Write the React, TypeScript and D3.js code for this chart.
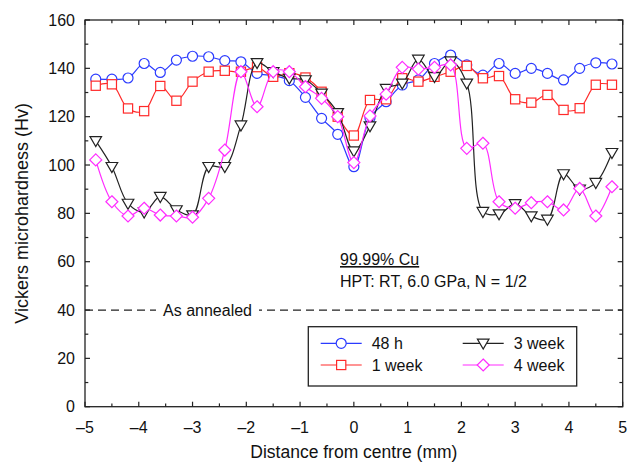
import * as d3 from "d3";

// distance from centre (mm)
const positions = [
  -4.8, -4.5, -4.2, -3.9, -3.6, -3.3, -3.0, -2.7, -2.4, -2.1, -1.8, -1.5, -1.2,
  -0.9, -0.6, -0.3, 0, 0.3, 0.6, 0.9, 1.2, 1.5, 1.8, 2.1, 2.4, 2.7, 3.0, 3.3,
  3.6, 3.9, 4.2, 4.5, 4.8,
];

const hv48h = [
  135.5, 135.5, 136, 142, 138.3, 143.4, 145, 144.8, 143.2, 142.7, 137.9, 137,
  134.9, 128, 119.3, 112.7, 99.3, 119.5, 126.2, 133.1, 135.2, 142, 145.5, 141.4,
  137.2, 142, 137.9, 140, 137.9, 135.2, 140, 142.3, 141.8,
];
const hv1week = [
  132.8, 133.4, 123.4, 122.3, 132.7, 126.6, 134.5, 138.6, 139, 138.6, 140.5,
  136.5, 138, 136.2, 130.3, 120, 112.2, 126.9, 127.2, 135.9, 134.5, 136.5, 138.6,
  141, 135.9, 136.8, 127.2, 125.8, 129, 122.8, 123.5, 133.2, 133.2,
];
const hv3week = [
  110, 99.3, 84.1, 80.5, 86.9, 81.4, 79.3, 99.3, 99.3, 116.5, 142.3, 138.6,
  135.9, 135.2, 129.7, 121.6, 105.8, 116.1, 131.6, 133.8, 143.7, 136.5, 143,
  133.8, 80.7, 79.7, 83.9, 78.9, 77.5, 96.3, 90, 92.7, 105.1,
];
const hv4week = [
  102.1, 84.8, 78.9, 82.1, 79.3, 78.9, 78.4, 86.2, 106.2, 138.6, 124.1, 138.6,
  138.6, 132.4, 127.6, 120, 101, 120.3, 129.3, 140.4, 139.7, 140.4, 141.4,
  106.9, 109, 84.8, 82.1, 84.4, 84.8, 81.4, 90.3, 78.9, 91,
];

const xTicks = [-5, -4, -3, -2, -1, 0, 1, 2, 3, 4, 5];
const yTicks = [0, 20, 40, 60, 80, 100, 120, 140, 160];
const annealedHv = 40;

const series = [
  { name: "48 h", values: hv48h, color: "#2b3bff", marker: "circle" },
  { name: "1 week", values: hv1week, color: "#ff2a2a", marker: "square" },
  { name: "3 week", values: hv3week, color: "#222222", marker: "triangle" },
  { name: "4 week", values: hv4week, color: "#ff2cff", marker: "diamond" },
];

const W = 629;
const H = 465;
const left = 85;
const right = 622.7;
const top = 20;
const bottom = 406.7;
const font = "'Liberation Sans', Arial, Helvetica, sans-serif";

function Marker({ type, x, y, color }: { type: string; x: number; y: number; color: string }) {
  if (type === "circle")
    return <circle cx={x} cy={y} r={5} fill="white" stroke={color} strokeWidth={1.2} />;
  if (type === "square")
    return <rect x={x - 4.6} y={y - 4.6} width={9.2} height={9.2} fill="white" stroke={color} strokeWidth={1.2} />;
  if (type === "triangle")
    return (
      <path
        d={`M${x - 5.8},${y - 4.2} L${x + 5.8},${y - 4.2} L${x},${y + 5.8} Z`}
        fill="white"
        stroke={color}
        strokeWidth={1.2}
      />
    );
  return (
    <path
      d={`M${x},${y - 6} L${x + 6},${y} L${x},${y + 6} L${x - 6},${y} Z`}
      fill="white"
      stroke={color}
      strokeWidth={1.2}
    />
  );
}

export default function App() {
  const x = d3.scaleLinear().domain([-5, 5]).range([left, right]);
  const y = d3.scaleLinear().domain([0, 160]).range([bottom, top]);

  const line = d3
    .line<number>()
    .x((_, i) => x(positions[i]))
    .y((d) => y(d))
    .curve(d3.curveCatmullRom.alpha(0.5));

  const xMinor = d3.range(-4.5, 5, 1);
  const yMinor = d3.range(10, 160, 20);

  const legendItems = [
    { s: series[0], lx: 320.7, ly: 343.3 },
    { s: series[1], lx: 320.7, ly: 365 },
    { s: series[2], lx: 462.7, ly: 343.3 },
    { s: series[3], lx: 462.7, ly: 365 },
  ];

  return (
    <div style={{ position: "absolute", left: 0, top: 0 }}>
      <svg width={W} height={H} style={{ display: "block", background: "white" }} fontFamily={font}>
        {/* as annealed line */}
        <line
          x1={left}
          x2={right}
          y1={y(annealedHv)}
          y2={y(annealedHv)}
          stroke="#222"
          strokeWidth={1.2}
          strokeDasharray="8,5"
        />
        <rect x={156} y={y(annealedHv) - 9} width={103} height={18} fill="white" />
        <text x={207.5} y={y(annealedHv) + 5.5} fontSize={16} textAnchor="middle" fill="#111">
          As annealed
        </text>

        {/* series */}
        {series.map((s) => (
          <g key={s.name}>
            <path d={line(s.values) || ""} fill="none" stroke={s.color} strokeWidth={1.2} />
            {s.values.map((v, i) => (
              <Marker key={i} type={s.marker} x={x(positions[i])} y={y(v)} color={s.color} />
            ))}
          </g>
        ))}

        {/* frame and ticks */}
        <rect x={left} y={top} width={right - left} height={bottom - top} fill="none" stroke="#222" strokeWidth={1.3} />
        {xTicks.map((t) => (
          <g key={"xt" + t} stroke="#222" strokeWidth={1.2}>
            <line x1={x(t)} x2={x(t)} y1={bottom} y2={bottom - 5} />
            <line x1={x(t)} x2={x(t)} y1={top} y2={top + 5} />
          </g>
        ))}
        {xMinor.map((t) => (
          <g key={"xm" + t} stroke="#222" strokeWidth={1.2}>
            <line x1={x(t)} x2={x(t)} y1={bottom} y2={bottom - 3.3} />
            <line x1={x(t)} x2={x(t)} y1={top} y2={top + 3.3} />
          </g>
        ))}
        {yTicks.map((t) => (
          <g key={"yt" + t} stroke="#222" strokeWidth={1.2}>
            <line x1={left} x2={left + 5} y1={y(t)} y2={y(t)} />
            <line x1={right} x2={right - 5} y1={y(t)} y2={y(t)} />
          </g>
        ))}
        {yMinor.map((t) => (
          <g key={"ym" + t} stroke="#222" strokeWidth={1.2}>
            <line x1={left} x2={left + 3.3} y1={y(t)} y2={y(t)} />
            <line x1={right} x2={right - 3.3} y1={y(t)} y2={y(t)} />
          </g>
        ))}

        {/* tick labels */}
        {xTicks.map((t) => (
          <text key={"xl" + t} x={x(t)} y={433} fontSize={16} textAnchor="middle" fill="#111">
            {t < 0 ? "\u2013" + Math.abs(t) : t}
          </text>
        ))}
        {yTicks.map((t) => (
          <text key={"yl" + t} x={75} y={y(t) + 5.6} fontSize={16} textAnchor="end" fill="#111">
            {t}
          </text>
        ))}

        {/* axis titles */}
        <text x={(left + right) / 2} y={458} fontSize={17.5} textAnchor="middle" fill="#111">
          Distance from centre (mm)
        </text>
        <text
          transform={`translate(28, ${(top + bottom) / 2}) rotate(-90)`}
          fontSize={18}
          textAnchor="middle"
          fill="#111"
        >
          Vickers microhardness (Hv)
        </text>

        {/* annotation */}
        <text x={340} y={265} fontSize={16} fill="#111" textDecoration="underline">
          99.99% Cu
        </text>
        <text x={340} y={287} fontSize={16} fill="#111">
          HPT: RT, 6.0 GPa, N = 1/2
        </text>

        {/* legend */}
        <rect x={308.3} y={326.7} width={268.4} height={59.3} fill="white" stroke="#222" strokeWidth={1.3} />
        {legendItems.map(({ s, lx, ly }) => (
          <g key={"lg" + s.name}>
            <line x1={lx} x2={lx + 41} y1={ly} y2={ly} stroke={s.color} strokeWidth={1.2} />
            <Marker type={s.marker} x={lx + 20.5} y={ly} color={s.color} />
            <text x={lx + 51} y={ly + 5.6} fontSize={16} fill="#111">
              {s.name}
            </text>
          </g>
        ))}
      </svg>
    </div>
  );
}
